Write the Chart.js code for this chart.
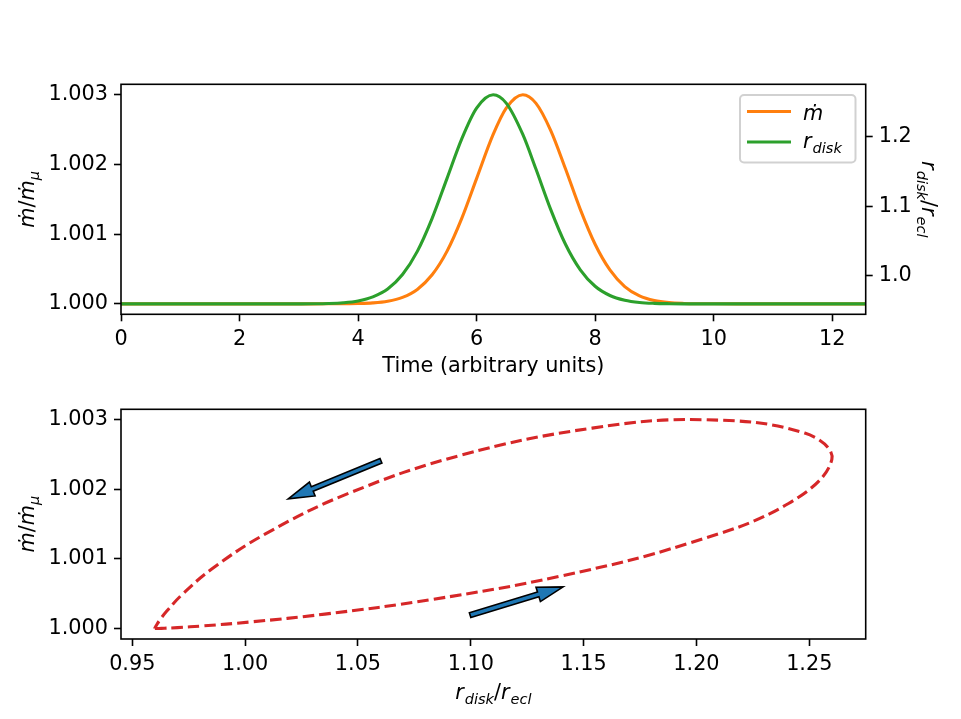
<!DOCTYPE html>
<html>
<head>
<meta charset="utf-8">
<script src="https://cdn.jsdelivr.net/npm/chart.js@4.4.1/dist/chart.umd.min.js"></script>
<style>
  html, body { margin: 0; padding: 0; background: #ffffff; }
  #wrap { position: relative; width: 961px; height: 719px; overflow: hidden; background: #fff; }
  canvas { position: absolute; left: 0; }
</style>
</head>
<body>
<div id="wrap">
  <canvas id="c1" width="961" height="390" style="top:0px;width:961px;height:390px"></canvas>
  <canvas id="c2" width="961" height="329" style="top:390px;width:961px;height:329px"></canvas>
</div>
<script>
// ---------------- data ----------------
const times = [0, 1, 2, 3, 3.25, 3.5, 3.75, 4, 4.25, 4.5, 4.75, 5, 5.25, 5.5, 5.75, 6, 6.28, 6.5, 6.78,
  7, 7.25, 7.5, 7.75, 8, 8.25, 8.5, 8.75, 9, 9.25, 9.5, 9.75, 10, 11, 12, 12.566];
const mdotValues = [1.0, 1.0, 1.0, 1.0, 1.0000001, 1.0000004, 1.0000014, 1.0000046, 1.0000138, 1.000038,
  1.0000935, 1.0002073, 1.000417, 1.000753, 1.001227, 1.001797, 1.00243, 1.002808, 1.003,
  1.00288, 1.00249, 1.001938, 1.001356, 1.000855, 1.000486, 1.0002475, 1.0001137, 1.0000471,
  1.0000174, 1.0000059, 1.0000018, 1.0000005, 1.0, 1.0, 1.0];
const rdiskValues = [0.96, 0.96, 0.96, 0.96, 0.9601, 0.9605, 0.9616, 0.9642, 0.97, 0.9812,
  1.002, 1.0353, 1.0827, 1.1397, 1.1967, 1.2408, 1.26, 1.248, 1.203,
  1.1538, 1.0956, 1.0455, 1.0088, 0.9852, 0.972, 0.9652, 0.962, 0.9607,
  0.9602, 0.96, 0.96, 0.96, 0.96, 0.96, 0.96];
const xTicksTime = [0, 2, 4, 6, 8, 10, 12];
const yTicksMdot = [1.000, 1.001, 1.002, 1.003];
const yTicksRdisk = [1.0, 1.1, 1.2];
const xTicksRdisk = [0.95, 1.00, 1.05, 1.10, 1.15, 1.20, 1.25];
const timeRange = [0, 12.566];
const mdotRange = [0.99985, 1.00315];
const rdiskRange = [0.945, 1.275];
const arrowTails = [[1.0602, 1.002411], [1.0997, 1.000192]];
const arrowTips = [[1.0191, 1.001863], [1.1409, 1.000599]];
const seriesNames = ['mdot', 'rdisk'];

// ---------------- styling ----------------
const FONT = 'DejaVu Sans';
const FS = 20.8;
Chart.defaults.font.family = FONT;
Chart.defaults.font.size = FS;
Chart.defaults.color = '#000';
const ORANGE = '#ff7f0e', GREEN = '#2ca02c', RED = '#d62728', BLUE = '#1f77b4';

function richWidth(ctx, parts, size) {
  let w = 0;
  for (const p of parts) {
    const s = p.sub ? size * 0.7 : size;
    ctx.font = (p.it ? 'italic ' : '') + s + 'px "' + FONT + '"';
    w += ctx.measureText(p.t).width + (p.gap || 0);
  }
  return w;
}
function drawRich(ctx, parts, x, y, rot, align, size) {
  size = size || FS;
  ctx.save();
  ctx.translate(x, y);
  ctx.rotate(rot || 0);
  const W = richWidth(ctx, parts, size);
  let cx = align === 'left' ? 0 : -W / 2;
  ctx.textBaseline = 'alphabetic';
  ctx.textAlign = 'left';
  ctx.fillStyle = '#000';
  for (const p of parts) {
    const s = p.sub ? size * 0.7 : size;
    ctx.font = (p.it ? 'italic ' : '') + s + 'px "' + FONT + '"';
    ctx.fillText(p.t, cx, p.sub ? size * 0.22 : 0);
    cx += ctx.measureText(p.t).width + (p.gap || 0);
  }
  ctx.restore();
}
const MDOT_LABEL = [{t: 'ṁ', it: 1}, {t: '/'}, {t: 'ṁ', it: 1}, {t: 'μ', it: 1, sub: 1}];
const RDISK_LABEL = [{t: 'r', it: 1, gap: 1}, {t: 'disk', it: 1, sub: 1}, {t: '/'}, {t: 'r', it: 1, gap: 1}, {t: 'ecl', it: 1, sub: 1}];

function setTicks(arr) {
  return (scale) => { scale.ticks = arr.map(v => ({value: v})); };
}
function axisBase(extra) {
  return Object.assign({
    type: 'linear',
    grid: {display: true, drawOnChartArea: false, drawTicks: true, tickLength: 7, tickWidth: 1.6, tickColor: '#000'},
    border: {display: false},
    ticks: {color: '#000', font: {family: FONT, size: FS}, padding: 6, autoSkip: false, maxRotation: 0, minRotation: 0}
  }, extra);
}
function frame(chart) {
  const a = chart.chartArea, ctx = chart.ctx;
  ctx.save();
  ctx.strokeStyle = '#000';
  ctx.lineWidth = 1.6;
  ctx.strokeRect(a.left, a.top, a.right - a.left, a.bottom - a.top);
  ctx.restore();
}

// ---------------- top chart: time series ----------------
const topPlugin = {
  id: 'topDecor',
  afterDraw(chart) {
    const ctx = chart.ctx;
    frame(chart);
    // axis titles
    drawRich(ctx, MDOT_LABEL, 34, 199.3, -Math.PI / 2, 'center');
    drawRich(ctx, RDISK_LABEL, 922, 199.3, Math.PI / 2, 'center');
    drawRich(ctx, [{t: 'Time (arbitrary units)'}], 493.4, 372, 0, 'center');
    // legend
    ctx.save();
    const bx = 740, by = 95, bw = 115.5, bh = 67.5, r = 4;
    ctx.beginPath();
    ctx.moveTo(bx + r, by);
    ctx.arcTo(bx + bw, by, bx + bw, by + bh, r);
    ctx.arcTo(bx + bw, by + bh, bx, by + bh, r);
    ctx.arcTo(bx, by + bh, bx, by, r);
    ctx.arcTo(bx, by, bx + bw, by, r);
    ctx.closePath();
    ctx.fillStyle = 'rgba(255,255,255,0.8)';
    ctx.fill();
    ctx.strokeStyle = 'rgba(204,204,204,0.9)';
    ctx.lineWidth = 2;
    ctx.stroke();
    ctx.lineWidth = 3.1;
    ctx.lineCap = 'butt';
    ctx.strokeStyle = ORANGE;
    ctx.beginPath(); ctx.moveTo(747, 111.5); ctx.lineTo(791, 111.5); ctx.stroke();
    ctx.strokeStyle = GREEN;
    ctx.beginPath(); ctx.moveTo(747, 142); ctx.lineTo(791, 142); ctx.stroke();
    ctx.restore();
    drawRich(ctx, [{t: 'ṁ', it: 1}], 803, 120, 0, 'left');
    drawRich(ctx, [{t: 'r', it: 1, gap: 1}, {t: 'disk', it: 1, sub: 1}], 803, 148, 0, 'left');
  }
};

new Chart(document.getElementById('c1'), {
  type: 'line',
  data: {
    datasets: [
      {label: seriesNames[0], data: times.map((t, i) => ({x: t, y: mdotValues[i]})), yAxisID: 'y',
        borderColor: ORANGE, borderWidth: 3.1, pointRadius: 0, cubicInterpolationMode: 'monotone', order: 1, fill: false},
      {label: seriesNames[1], data: times.map((t, i) => ({x: t, y: rdiskValues[i]})), yAxisID: 'y1',
        borderColor: GREEN, borderWidth: 3.1, pointRadius: 0, cubicInterpolationMode: 'monotone', order: 0, fill: false}
    ]
  },
  options: {
    responsive: false, animation: false, devicePixelRatio: 1,
    layout: {padding: {top: 84.3, left: 0, right: 0, bottom: 0}},
    plugins: {legend: {display: false}, tooltip: {enabled: false}},
    scales: {
      x: axisBase({position: 'bottom', min: timeRange[0], max: timeRange[1],
        afterBuildTicks: setTicks(xTicksTime),
        afterFit: (s) => { s.height = 390 - 314.3; },
        ticks: Object.assign(axisBase().ticks, {callback: (v) => String(v)})}),
      y: axisBase({position: 'left', min: mdotRange[0], max: mdotRange[1],
        afterBuildTicks: setTicks(yTicksMdot),
        afterFit: (s) => { s.width = 121; },
        ticks: Object.assign(axisBase().ticks, {callback: (v) => Number(v).toFixed(3)})}),
      y1: axisBase({position: 'right', min: rdiskRange[0], max: rdiskRange[1],
        afterBuildTicks: setTicks(yTicksRdisk),
        afterFit: (s) => { s.width = 961 - 865.7; },
        ticks: Object.assign(axisBase().ticks, {callback: (v) => Number(v).toFixed(1)})})
    }
  },
  plugins: [topPlugin]
});

// ---------------- bottom chart: loop ----------------
const bottomPlugin = {
  id: 'bottomDecor',
  afterDatasetsDraw(chart) {
    const ctx = chart.ctx, xs = chart.scales.x, ys = chart.scales.y;
    ctx.save();
    for (let k = 0; k < arrowTails.length; k++) {
      const x0 = xs.getPixelForValue(arrowTails[k][0]), y0 = ys.getPixelForValue(arrowTails[k][1]);
      const x1 = xs.getPixelForValue(arrowTips[k][0]), y1 = ys.getPixelForValue(arrowTips[k][1]);
      const L = Math.hypot(x1 - x0, y1 - y0);
      const ux = (x1 - x0) / L, uy = (y1 - y0) / L, nx = -uy, ny = ux;
      const w = 2.5, hw = 7.5, hl = 26;
      const bxp = x1 - ux * hl, byp = y1 - uy * hl;
      ctx.beginPath();
      ctx.moveTo(x0 + nx * w, y0 + ny * w);
      ctx.lineTo(bxp + nx * w, byp + ny * w);
      ctx.lineTo(bxp + nx * hw, byp + ny * hw);
      ctx.lineTo(x1, y1);
      ctx.lineTo(bxp - nx * hw, byp - ny * hw);
      ctx.lineTo(bxp - nx * w, byp - ny * w);
      ctx.lineTo(x0 - nx * w, y0 - ny * w);
      ctx.closePath();
      ctx.fillStyle = BLUE;
      ctx.fill();
      ctx.strokeStyle = '#000';
      ctx.lineWidth = 1.6;
      ctx.lineJoin = 'miter';
      ctx.stroke();
    }
    ctx.restore();
  },
  afterDraw(chart) {
    const ctx = chart.ctx;
    frame(chart);
    drawRich(ctx, MDOT_LABEL, 34, 524.2 - 390, -Math.PI / 2, 'center');
    drawRich(ctx, RDISK_LABEL, 493.4, 699 - 390, 0, 'center');
  }
};

new Chart(document.getElementById('c2'), {
  type: 'line',
  data: {
    datasets: [
      {label: 'loop', data: times.map((t, i) => ({x: rdiskValues[i], y: mdotValues[i]})),
        borderColor: RED, borderWidth: 3.1, borderDash: [11.5, 5], pointRadius: 0, tension: 0.4, fill: false}
    ]
  },
  options: {
    responsive: false, animation: false, devicePixelRatio: 1,
    layout: {padding: {top: 409.3 - 390, left: 0, right: 961 - 865.7, bottom: 0}},
    plugins: {legend: {display: false}, tooltip: {enabled: false}},
    scales: {
      x: axisBase({position: 'bottom', min: rdiskRange[0], max: rdiskRange[1],
        afterBuildTicks: setTicks(xTicksRdisk),
        afterFit: (s) => { s.height = 719 - 639; },
        ticks: Object.assign(axisBase().ticks, {callback: (v) => Number(v).toFixed(2)})}),
      y: axisBase({position: 'left', min: mdotRange[0], max: mdotRange[1],
        afterBuildTicks: setTicks(yTicksMdot),
        afterFit: (s) => { s.width = 121; },
        ticks: Object.assign(axisBase().ticks, {callback: (v) => Number(v).toFixed(3)})})
    }
  },
  plugins: [bottomPlugin]
});
</script>
</body>
</html>
